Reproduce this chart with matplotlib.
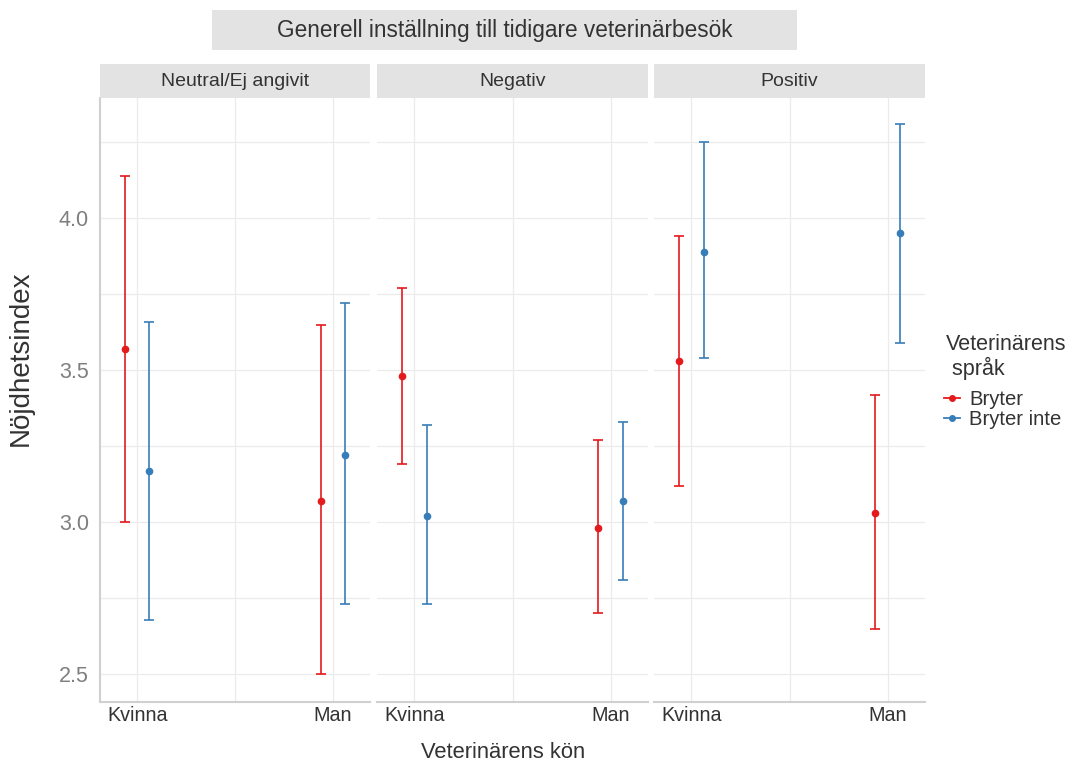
import numpy as np
import matplotlib
matplotlib.use('Agg')
import matplotlib.pyplot as plt
from matplotlib.lines import Line2D

plt.rcParams['font.family'] = ['Liberation Sans', 'DejaVu Sans']

# data
facets = ['Neutral/Ej angivit', 'Negativ', 'Positiv']
sex = ['Kvinna', 'Man']
groups = ['Bryter', 'Bryter inte']
colors = ['#E41A1C', '#377EB8']

# mean, lower, upper  -> [facet][group][sex]
mean = np.array([[[3.57, 3.07], [3.17, 3.22]],
                 [[3.48, 2.98], [3.02, 3.07]],
                 [[3.53, 3.03], [3.89, 3.95]]])
lower = np.array([[[3.00, 2.50], [2.68, 2.73]],
                  [[3.19, 2.70], [2.73, 2.81]],
                  [[3.12, 2.65], [3.54, 3.59]]])
upper = np.array([[[4.14, 3.65], [3.66, 3.72]],
                  [[3.77, 3.27], [3.32, 3.33]],
                  [[3.94, 3.42], [4.25, 4.31]]])

W, H = 1072, 766
fig = plt.figure(figsize=(W/100, H/100), dpi=100)

def rect(x0, y0, x1, y1):
    return [x0/W, 1-y1/H, (x1-x0)/W, (y1-y0)/H]

panel_x = [(100, 370), (377, 648), (654, 925)]
ptop, pbot = 98, 702
dodge = 0.063
grid_c = '#EBEBEB'

for k, (x0, x1) in enumerate(panel_x):
    ax = fig.add_axes(rect(x0, ptop, x1, pbot))
    xs = np.arange(1, 3)
    for g in range(2):
        off = -dodge if g == 0 else dodge
        m = mean[k, g]
        ax.errorbar(xs + off, m, yerr=[m - lower[k, g], upper[k, g] - m],
                    fmt='o', color=colors[g], ms=4.5, elinewidth=1.2,
                    capsize=3.6, capthick=1.2, zorder=3)
    ax.set_xlim(0.81, 2.19)
    ax.set_ylim(2.409, 4.395)
    ax.set_xticks([1, 2])
    ax.set_xticklabels(sex, fontsize=14.2, color='#333333')
    ax.set_xticks([1.5], minor=True)
    ax.set_yticks([2.5, 3.0, 3.5, 4.0])
    ax.set_yticks([2.75, 3.25, 3.75, 4.25], minor=True)
    ax.grid(True, which='both', color=grid_c, lw=0.9, zorder=0)
    ax.set_axisbelow(True)
    ax.tick_params(which='both', length=0)
    ax.tick_params(axis='x', pad=3)
    for s in ['top', 'right', 'left']:
        ax.spines[s].set_visible(False)
    ax.spines['bottom'].set_color('#D0D0D0')
    ax.spines['bottom'].set_linewidth(1.5)
    if k == 0:
        ax.spines['left'].set_visible(True)
        ax.spines['left'].set_color('#D0D0D0')
        ax.spines['left'].set_linewidth(1.5)
        ax.set_yticklabels(['2.5', '3.0', '3.5', '4.0'], fontsize=15.5, color='#7F7F7F')
        ax.tick_params(axis='y', pad=8)
        ax.set_ylabel('Nöjdhetsindex', fontsize=20, color='#333333')
        ax.yaxis.set_label_coords(-66/270, (pbot-358)/(pbot-ptop))
    else:
        ax.set_yticklabels([])
    # facet strip
    sax = fig.add_axes(rect(x0, 64, x1, 98))
    sax.set_facecolor('#E3E3E3')
    sax.set_xticks([]); sax.set_yticks([])
    for s in sax.spines.values():
        s.set_visible(False)
    sax.text(0.5, 0.5, facets[k], ha='center', va='center', fontsize=14, color='#333333',
             transform=sax.transAxes)

# top strip
tax = fig.add_axes(rect(212, 10, 797, 50))
tax.set_facecolor('#E3E3E3')
tax.set_xticks([]); tax.set_yticks([])
for s in tax.spines.values():
    s.set_visible(False)
tax.text(0.5, 0.5, 'Generell inställning till tidigare veterinärbesök', ha='center', va='center',
         fontsize=16.3, color='#333333', transform=tax.transAxes)

fig.text(503/W, 1-752/H, 'Veterinärens kön', ha='center', va='center', fontsize=15.8, color='#333333')

# legend
fig.text(946/W, 1-357/H, 'Veterinärens\n språk', ha='left', va='center', fontsize=15.5,
         color='#333333', linespacing=1.15)
handles = [Line2D([], [], color=c, marker='o', ms=4, lw=1.3) for c in colors]
leg = fig.legend(handles, groups, loc='upper left', bbox_to_anchor=(944/W, 1-390/H),
                 frameon=False, fontsize=14.6, borderpad=0, borderaxespad=0,
                 handlelength=0.8, handletextpad=0.45, labelspacing=0.05)
for t in leg.get_texts():
    t.set_color('#333333')

fig.savefig('out.png', dpi=100)
